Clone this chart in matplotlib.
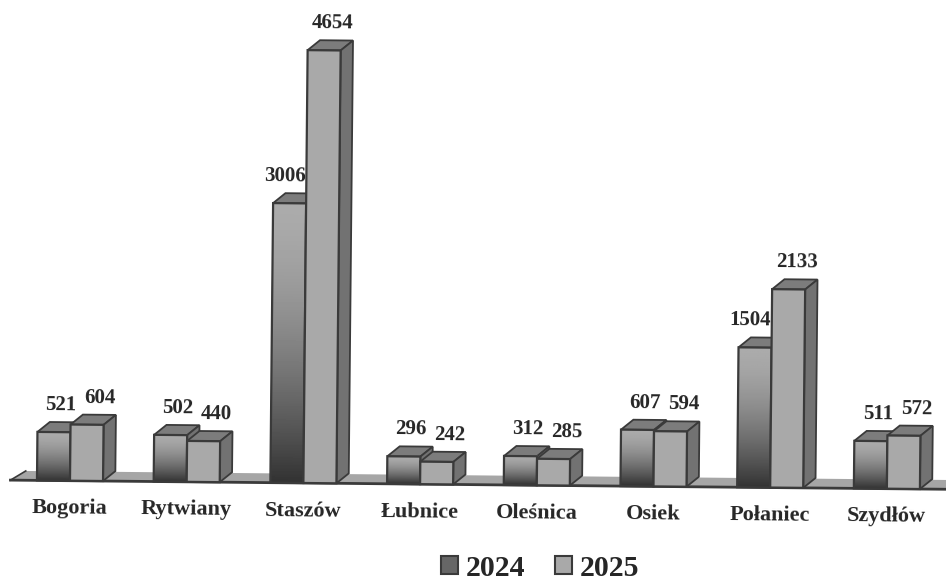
import numpy as np
import matplotlib
matplotlib.use("Agg")
import matplotlib.pyplot as plt
from matplotlib.patches import Patch
from matplotlib.transforms import Affine2D

CATEGORIES = ["Bogoria", "Rytwiany", "Staszów", "Łubnice", "Oleśnica", "Osiek", "Połaniec", "Szydłów"]
VALUES_2024 = [521, 502, 3006, 296, 312, 607, 1504, 511]
VALUES_2025 = [604, 440, 4654, 242, 285, 594, 2133, 572]
SERIES_NAMES = ["2024", "2025"]

FRONT = "#a9a9a9"
TOP = "#7c7c7c"
SIDE = "#727272"
EDGE = "#3a3a3a"
FLOOR = "#a6a6a6"
TEXT = "#262626"

BAR_W = 0.283
DEPTH_X = 0.105
DEPTH_Y = 108
TILT = -0.56

plt.rcParams["font.family"] = ["Liberation Serif", "DejaVu Serif"]
plt.rcParams["font.weight"] = "bold"

fig = plt.figure(figsize=(9.46, 5.8), dpi=100, facecolor="white")
ax = fig.add_axes([0, 0, 1, 1])
ax.axis("off")

xlim = (-0.6, 7.506)
ylim = (-1075, 5161)
ax.set_xlim(xlim)
ax.set_ylim(ylim)

# the scan is slightly rotated, everything goes through this
tilt = ax.transData + Affine2D().rotate_deg_around(0, 580 - 478, TILT)


def draw_bar(x_left, value, front_gradient):
    x_right = x_left + BAR_W
    ax.fill([x_left, x_right, x_right + DEPTH_X, x_left + DEPTH_X],
            [value, value, value + DEPTH_Y, value + DEPTH_Y],
            facecolor=TOP, edgecolor=EDGE, linewidth=1.3, transform=tilt, zorder=3)
    ax.fill([x_right, x_right + DEPTH_X, x_right + DEPTH_X, x_right],
            [0, DEPTH_Y, value + DEPTH_Y, value],
            facecolor=SIDE, edgecolor=EDGE, linewidth=1.3, transform=tilt, zorder=3)
    if front_gradient:
        # light at the top, dark at the floor, dark part stays low
        t = np.linspace(0, 1, 64).reshape(-1, 1)
        shade = 0.67 - 0.47 * t ** 1.6
        img = ax.imshow(shade, cmap="gray", vmin=0, vmax=1, aspect="auto", origin="upper",
                        extent=(x_left, x_right, 0, value), zorder=3, interpolation="bilinear")
        img.set_transform(tilt)
        ax.bar(x_left, value, BAR_W, align="edge", facecolor="none", edgecolor=EDGE,
               linewidth=1.6, transform=tilt, zorder=3)
    else:
        ax.bar(x_left, value, BAR_W, align="edge", facecolor=FRONT, edgecolor=EDGE,
               linewidth=1.6, transform=tilt, zorder=3)


# floor
floor_l, floor_r = -0.51, 7.7
ax.fill([floor_l, floor_r, floor_r, floor_l + 0.13],
        [0, 0, 100, 100],
        facecolor=FLOOR, edgecolor="none", transform=tilt, zorder=1)
ax.plot([floor_l, floor_r], [0, 0], color=EDGE, linewidth=2, transform=tilt, zorder=2)
ax.plot([floor_l, floor_l + 0.13], [0, 100], color=EDGE, linewidth=1.2, transform=tilt, zorder=2)

for i, (v24, v25) in enumerate(zip(VALUES_2024, VALUES_2025)):
    # a tall 2025 neighbour pushes the 2024 label to the left
    shift_24 = 0.06 if v24 < 1000 else -0.04
    shift_25 = 0.11 if v25 < 1000 else 0.07
    ax.text(i - BAR_W / 2 + shift_24, v24 + 290, str(v24), ha="center", va="center",
            fontsize=15, color=TEXT, rotation=TILT, transform=tilt, zorder=2.5)
    ax.text(i + BAR_W / 2 + shift_25, v25 + 290, str(v25), ha="center", va="center",
            fontsize=15, color=TEXT, rotation=TILT, transform=tilt, zorder=2.5)
    draw_bar(i - BAR_W, v24, True)
    draw_bar(i, v25, False)
    ax.text(i, -300, CATEGORIES[i], ha="center", va="center", fontsize=16,
            color=TEXT, rotation=TILT, transform=tilt, zorder=4)

ax.set_xlim(xlim)
ax.set_ylim(ylim)

handles = [Patch(facecolor="#666666", edgecolor=EDGE, linewidth=1.5),
           Patch(facecolor=FRONT, edgecolor=EDGE, linewidth=1.5)]
fig.legend(handles, SERIES_NAMES, loc="center", bbox_to_anchor=(540 / 946, 1 - 568 / 580),
           ncol=2, frameon=False, fontsize=21.5, handlelength=0.58, handleheight=0.58,
           handletextpad=0.25, columnspacing=1.0, labelcolor=TEXT,
           borderpad=0, borderaxespad=0)

fig.savefig("out.png", dpi=100, facecolor="white")
